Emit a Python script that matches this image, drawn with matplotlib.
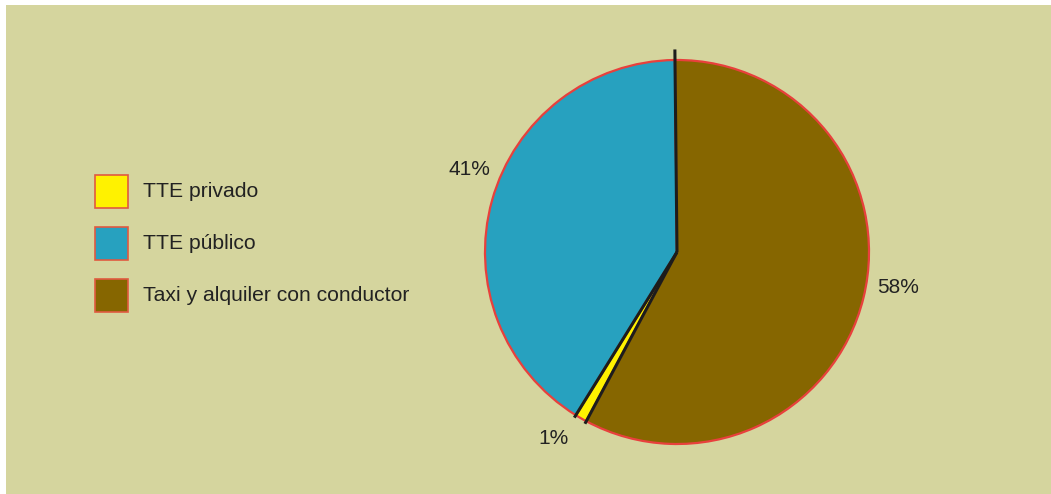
import numpy as np
import matplotlib.pyplot as plt
from matplotlib.patches import Rectangle

# datos
categorias = ['TTE privado', 'TTE público', 'Taxi y alquiler con conductor']
valores = [1, 41, 58]
etiquetas = ['1%', '41%', '58%']
colores = ['#fff200', '#27a1bf', '#866600']

plt.rcParams['font.family'] = ['Liberation Sans', 'DejaVu Sans']

fig = plt.figure(figsize=(10.51, 4.94), dpi=100)
fig.patch.set_facecolor('white')
ax = fig.add_axes([0, 0, 1, 1])

# fondo
ax.add_patch(Rectangle((6, 0), 1045, 489, facecolor='#d5d59e', edgecolor='none', zorder=0))

cx, cy, r = 677, 242, 192
inicio = -118.2
wedges, _ = ax.pie(valores, colors=colores, startangle=inicio, counterclock=False,
                   center=(cx, cy), radius=r,
                   wedgeprops=dict(edgecolor='#e8403c', linewidth=1.6))

# lineas negras entre sectores
bordes = inicio - np.cumsum([0] + valores[:-1]) / 100 * 360
largos = [1.015, 1.015, 1.055]
for ang, lg in zip(bordes, largos):
    a = np.deg2rad(ang)
    ax.plot([cx, cx + lg * r * np.cos(a)], [cy, cy + lg * r * np.sin(a)],
            color='#1c1c1c', lw=2.2, solid_capstyle='butt', zorder=5)

# porcentajes (desplazamiento angular de cada etiqueta)
desp = [-3.5, -6, 4.6]
for w, et, d in zip(wedges, etiquetas, desp):
    a = np.deg2rad((w.theta1 + w.theta2) / 2 + d)
    ax.text(cx + 1.165 * r * np.cos(a), cy + 1.165 * r * np.sin(a), et,
            ha='center', va='center', fontsize=15, color='#222222')

# leyenda
for i, (cat, col) in enumerate(zip(categorias, colores)):
    y = 494 - 208 - i * 52
    ax.add_patch(Rectangle((95, y), 33, 33, facecolor=col, edgecolor='#e05a40', lw=1.2, zorder=3))
    ax.text(143, y + 16.5, cat, ha='left', va='center', fontsize=15.2, color='#222222')

ax.set_xlim(0, 1051)
ax.set_ylim(0, 494)
ax.set_aspect('auto')
ax.axis('off')

fig.savefig('out.png', dpi=100, facecolor='white')
